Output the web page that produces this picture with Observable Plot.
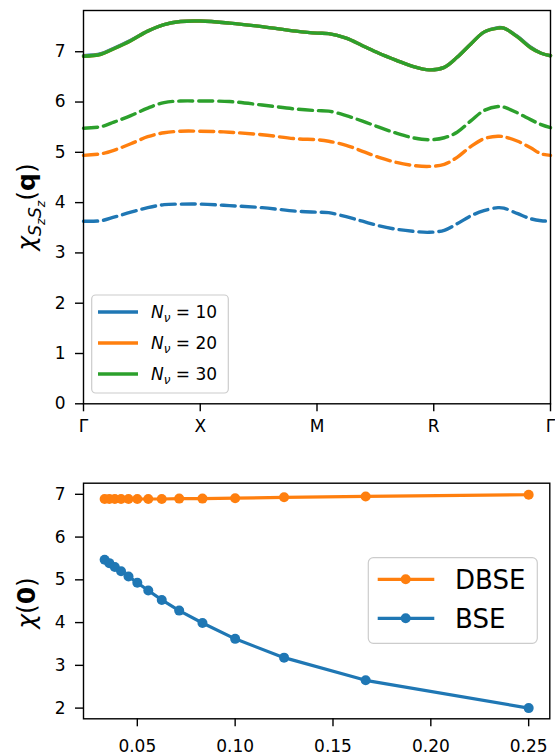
<!DOCTYPE html>
<html><head><meta charset="utf-8">
<script src="https://cdn.jsdelivr.net/npm/d3@7"></script>
<script src="https://cdn.jsdelivr.net/npm/@observablehq/plot@0.6"></script>
<style>
body{margin:0;background:#fff;overflow:hidden}
svg{display:block}
</style></head><body><div id="c"></div>
<script>
// ---- top panel data: path Γ-X-M-R-Γ ----
const qLabels = ["Γ","X","M","R","Γ"];
const qTicks = [0,1,2,3,4];
const qpos    = [0, 0.15, 0.26, 0.405, 0.55, 0.69, 0.83, 1.0, 1.25, 1.53, 1.82, 2.0, 2.1, 2.25, 2.39, 2.53, 2.68, 2.82, 2.96, 3.09, 3.2, 3.32, 3.43, 3.55, 3.6, 3.72, 3.83, 3.92, 4.0];
const solid10 = [6.92, 6.96, 7.07, 7.23, 7.41, 7.54, 7.60, 7.61, 7.57, 7.50, 7.41, 7.37, 7.36, 7.27, 7.12, 6.97, 6.83, 6.71, 6.64, 6.69, 6.89, 7.16, 7.39, 7.48, 7.47, 7.30, 7.09, 6.97, 6.92];
const solid20 = [6.91, 6.95, 7.06, 7.22, 7.41, 7.54, 7.60, 7.61, 7.57, 7.50, 7.41, 7.37, 7.36, 7.27, 7.12, 6.97, 6.83, 6.71, 6.64, 6.69, 6.89, 7.16, 7.39, 7.47, 7.47, 7.29, 7.08, 6.97, 6.92];
const solid30 = [6.91, 6.95, 7.06, 7.22, 7.41, 7.54, 7.60, 7.61, 7.57, 7.50, 7.41, 7.37, 7.36, 7.27, 7.12, 6.97, 6.83, 6.71, 6.64, 6.69, 6.89, 7.16, 7.39, 7.47, 7.47, 7.29, 7.08, 6.97, 6.92];
const dashed10 = [3.63, 3.64, 3.71, 3.81, 3.90, 3.96, 3.97, 3.97, 3.94, 3.90, 3.83, 3.81, 3.80, 3.72, 3.63, 3.54, 3.47, 3.43, 3.41, 3.45, 3.58, 3.74, 3.84, 3.90, 3.89, 3.78, 3.68, 3.64, 3.63];
const dashed20 = [4.94, 4.97, 5.04, 5.17, 5.31, 5.39, 5.42, 5.42, 5.40, 5.35, 5.27, 5.25, 5.22, 5.14, 5.02, 4.90, 4.80, 4.74, 4.72, 4.76, 4.90, 5.12, 5.27, 5.32, 5.31, 5.22, 5.09, 4.97, 4.94];
const dashed30 = [5.48, 5.51, 5.60, 5.73, 5.88, 5.99, 6.02, 6.02, 6.01, 5.94, 5.86, 5.83, 5.82, 5.73, 5.62, 5.50, 5.38, 5.29, 5.25, 5.29, 5.40, 5.63, 5.83, 5.91, 5.90, 5.78, 5.65, 5.55, 5.49];
const nuLabels = ["10","20","30"];
const yTicksTop = [0,1,2,3,4,5,6,7];

// ---- bottom panel data ----
const invN = [0.0333, 0.0357, 0.0385, 0.0417, 0.0455, 0.05, 0.0556, 0.0625, 0.0714, 0.0833, 0.1, 0.125, 0.1667, 0.25];
const dbse = [6.89, 6.89, 6.89, 6.89, 6.89, 6.89, 6.89, 6.89, 6.90, 6.90, 6.91, 6.93, 6.95, 6.99];
const bse  = [5.47, 5.39, 5.30, 5.20, 5.08, 4.93, 4.75, 4.53, 4.28, 3.99, 3.62, 3.18, 2.65, 2.00];
const xTicksBot = [0.05, 0.10, 0.15, 0.20, 0.25];
const yTicksBot = [2,3,4,5,6,7];
const legendBot = ["DBSE","BSE"];

const BLUE="#1f77b4", ORANGE="#ff7f0e", GREEN="#2ca02c";
const FONT="DejaVu Sans";
const rows = (xs, vs) => xs.map((x,i)=>({x, v: vs[i]}));

const lw = 3.4, dash = "14,6";
const topSvg = Plot.plot({
  width:555, height:445, marginLeft:83, marginRight:5, marginTop:10, marginBottom:41.7,
  style:{fontFamily:FONT, fontSize:"17px", background:"white", color:"black"},
  x:{domain:[0,4]}, y:{domain:[0,7.82]},
  marks:[
    Plot.line(rows(qpos, solid10), {x:"x", y:"v", stroke:BLUE, strokeWidth:lw, curve:"catmull-rom"}),
    Plot.line(rows(qpos, dashed10), {x:"x", y:"v", stroke:BLUE, strokeWidth:lw, strokeDasharray:dash, curve:"catmull-rom"}),
    Plot.line(rows(qpos, solid20), {x:"x", y:"v", stroke:ORANGE, strokeWidth:lw, curve:"catmull-rom"}),
    Plot.line(rows(qpos, dashed20), {x:"x", y:"v", stroke:ORANGE, strokeWidth:lw, strokeDasharray:dash, curve:"catmull-rom"}),
    Plot.line(rows(qpos, solid30), {x:"x", y:"v", stroke:GREEN, strokeWidth:lw, curve:"catmull-rom"}),
    Plot.line(rows(qpos, dashed30), {x:"x", y:"v", stroke:GREEN, strokeWidth:lw, strokeDasharray:dash, curve:"catmull-rom"}),
    Plot.frame({stroke:"black", strokeWidth:1.4}),
    Plot.axisX({ticks:qTicks, tickFormat:i=>qLabels[i], tickSize:8, tickPadding:8, fontSize:17, strokeWidth:1.4, label:null}),
    Plot.axisY({ticks:yTicksTop, tickFormat:d=>String(d), tickSize:8, tickPadding:10, fontSize:17, strokeWidth:1.4, label:null})
  ]
});

const botSvg = Plot.plot({
  width:555, height:311, marginLeft:83, marginRight:5.7, marginTop:37.7, marginBottom:37.7,
  style:{fontFamily:FONT, fontSize:"17px", background:"white", color:"black"},
  x:{domain:[0.0225, 0.2608]}, y:{domain:[1.75, 7.26]},
  marks:[
    Plot.line(rows(invN, dbse), {x:"x", y:"v", stroke:ORANGE, strokeWidth:3.2}),
    Plot.dot(rows(invN, dbse), {x:"x", y:"v", fill:ORANGE, r:5}),
    Plot.line(rows(invN, bse), {x:"x", y:"v", stroke:BLUE, strokeWidth:3.2}),
    Plot.dot(rows(invN, bse), {x:"x", y:"v", fill:BLUE, r:5}),
    Plot.frame({stroke:"black", strokeWidth:1.4}),
    Plot.axisX({ticks:xTicksBot, tickFormat:d=>d.toFixed(2), tickSize:8, tickPadding:13, fontSize:17, strokeWidth:1.4, label:null}),
    Plot.axisY({ticks:yTicksBot, tickFormat:d=>String(d), tickSize:8, tickPadding:10, fontSize:17, strokeWidth:1.4, label:null})
  ]
});

const c = document.getElementById("c");
c.appendChild(topSvg);
c.appendChild(botSvg);

function fs(sel, px){ return sel.style("font-size", px + "px"); }

// ---- top y label: χ_{S_z S_z}(q) ----
{
  const t = d3.select(topSvg).append("text")
    .attr("transform","translate(35,207) rotate(-90)")
    .style("text-anchor","middle").style("font-family",FONT).style("font-size","25px").attr("fill","black");
  fs(t.append("tspan").style("font-style","italic"),25).text("χ");
  fs(t.append("tspan").style("font-style","italic"),17.5).attr("dy",6).text("S");
  fs(t.append("tspan").style("font-style","italic"),12.5).attr("dy",3.5).text("z");
  fs(t.append("tspan").style("font-style","italic"),17.5).attr("dy",-3.5).text("S");
  fs(t.append("tspan").style("font-style","italic"),12.5).attr("dy",3.5).text("z");
  fs(t.append("tspan"),25).attr("dy",-9.5).text("(");
  fs(t.append("tspan").style("font-weight","bold"),25).text("q");
  fs(t.append("tspan"),25).text(")");
}
// ---- top legend ----
{
  const g = d3.select(topSvg).append("g").style("font-family",FONT);
  g.append("rect").attr("x",91.7).attr("y",295).attr("width",136.6).attr("height",98)
    .attr("rx",4).attr("fill","white").attr("fill-opacity",0.8).attr("stroke","#cccccc").attr("stroke-width",1.2);
  const cols=[BLUE,ORANGE,GREEN], ys=[312,343,374];
  nuLabels.forEach((lab,i)=>{
    g.append("line").attr("x1",98).attr("x2",138).attr("y1",ys[i]).attr("y2",ys[i])
      .attr("stroke",cols[i]).attr("stroke-width",lw);
    const t = g.append("text").attr("x",151).attr("y",ys[i]+6)
      .style("text-anchor","start").style("font-size","17px").attr("fill","black");
    fs(t.append("tspan").style("font-style","italic"),17).text("N");
    fs(t.append("tspan").style("font-style","italic"),12).attr("dy",4).text("ν");
    fs(t.append("tspan"),17).attr("dy",-4).text(" = " + lab);
  });
}
// ---- bottom y label: χ(0) ----
{
  const t = d3.select(botSvg).append("text")
    .attr("transform","translate(35,158) rotate(-90)")
    .style("text-anchor","middle").style("font-family",FONT).style("font-size","25px").attr("fill","black");
  fs(t.append("tspan").style("font-style","italic"),25).text("χ");
  fs(t.append("tspan"),25).text("(");
  fs(t.append("tspan").style("font-weight","bold"),25).text("0");
  fs(t.append("tspan"),25).text(")");
}
// ---- bottom legend ----
{
  const g = d3.select(botSvg).append("g").style("font-family",FONT);
  g.append("rect").attr("x",368.3).attr("y",112.7).attr("width",169).attr("height",85.6)
    .attr("rx",5).attr("fill","white").attr("fill-opacity",0.8).attr("stroke","#cccccc").attr("stroke-width",1.2);
  const cols=[ORANGE,BLUE], ys=[134.3,173.3];
  legendBot.forEach((lab,i)=>{
    g.append("line").attr("x1",377.7).attr("x2",434.3).attr("y1",ys[i]).attr("y2",ys[i])
      .attr("stroke",cols[i]).attr("stroke-width",3.2);
    g.append("circle").attr("cx",405.7).attr("cy",ys[i]).attr("r",5).attr("fill",cols[i]);
    g.append("text").attr("x",455).attr("y",ys[i]+9.5)
      .style("text-anchor","start").style("font-size","26px").attr("fill","black").text(lab);
  });
}
</script></body></html>
